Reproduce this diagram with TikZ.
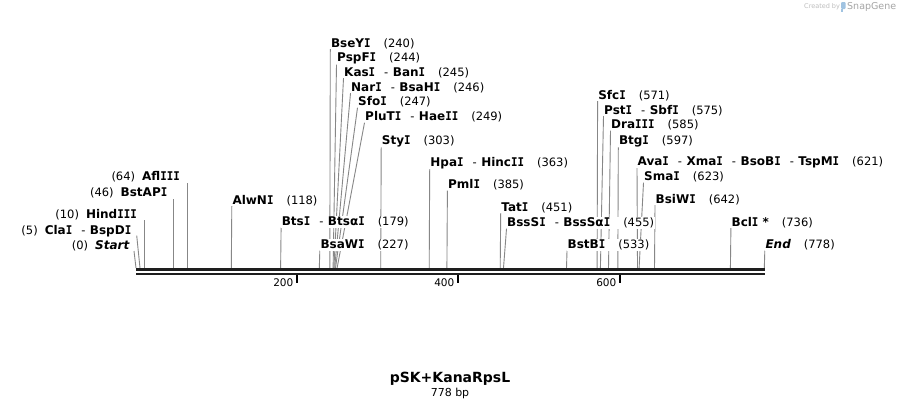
\documentclass[tikz,border=0pt]{standalone}
\usepackage{fontspec}
\setmainfont{DejaVu Sans}
\newfontfamily\monofam{DejaVu Sans Mono}
\usetikzlibrary{backgrounds}
\definecolor{cutc}{RGB}{135,135,135}
\definecolor{bbc}{RGB}{30,30,30}
\definecolor{credc}{RGB}{190,190,190}
\definecolor{snapc}{RGB}{165,165,165}
\definecolor{logoc}{RGB}{160,195,225}
\newcommand\sI{\scalebox{0.9}[1]{\monofam\bfseries I}}
\newcommand\nm[1]{{\fontsize{12}{14}\selectfont\bfseries #1}}
\newcommand\nb[1]{{\fontsize{11.5}{13}\selectfont #1}}
\newcommand\gp{\hspace{13pt}}
\newcommand\lgp{\hspace{7pt}}
\newcommand\sep{\hspace{9pt}-\hspace{4.5pt}}
\tikzset{
  lab/.style={font=\fontsize{11.5}{13}\selectfont, fill=white, inner sep=0.5pt},
  rl/.style={lab, anchor=base west},
  ll/.style={lab, anchor=base east},
  cut/.style={draw=cutc, line width=0.9pt},
  bbline/.style={draw=bbc},
  tickm/.style={draw=black, line width=1.8pt},
  ticklab/.style={font=\fontsize{10.5}{12}\selectfont, anchor=base east, inner sep=0pt},
}
\begin{document}
\begin{tikzpicture}[x=1pt,y=-1pt]
\begin{scope}[on background layer]
\fill[white] (0,0) rectangle (901,408);
\end{scope}
\path[use as bounding box] (0,0) rectangle (901,408);

% backbone
\coordinate (bbL1) at (136,269.8); \coordinate (bbR1) at (765,269.8);
\coordinate (bbL2) at (136,273.9); \coordinate (bbR2) at (765,273.9);
\draw[bbline, line width=3pt] (bbL1) -- (bbR1);
\draw[bbline, line width=2.4pt] (bbL2) -- (bbR2);

% ticks
\coordinate (k200a) at (297,275); \coordinate (k200b) at (297,283);
\coordinate (k400a) at (458,275); \coordinate (k400b) at (458,283);
\coordinate (k600a) at (620,275); \coordinate (k600b) at (620,283);
\draw[tickm] (k200a) -- (k200b);
\draw[tickm] (k400a) -- (k400b);
\draw[tickm] (k600a) -- (k600b);
\node[ticklab] (t200) at (293.5,286.5) {200};
\node[ticklab] (t400) at (454.5,286.5) {400};
\node[ticklab] (t600) at (616.5,286.5) {600};

% site coordinates
\coordinate (s0) at (136,268);
\coordinate (s5) at (140,268);
\coordinate (s10) at (144.1,268);
\coordinate (s46) at (173.2,268);
\coordinate (s64) at (187.2,268);
\coordinate (s118) at (231.3,268);
\coordinate (s179) at (280.6,268);
\coordinate (s227) at (319.3,268);
\coordinate (s240) at (329.8,268);
\coordinate (s244) at (333.1,268);
\coordinate (s245) at (333.9,268);
\coordinate (s246) at (334.7,268);
\coordinate (s247) at (335.5,268);
\coordinate (s249) at (337.1,268);
\coordinate (s303) at (380.7,268);
\coordinate (s363) at (429.2,268);
\coordinate (s385) at (446.9,268);
\coordinate (s451) at (500.2,268);
\coordinate (s455) at (503.5,268);
\coordinate (s533) at (566.5,268);
\coordinate (s571) at (597.1,268);
\coordinate (s575) at (600.4,268);
\coordinate (s585) at (608.5,268);
\coordinate (s597) at (617.8,268);
\coordinate (s621) at (637.5,268);
\coordinate (s623) at (639.1,268);
\coordinate (s642) at (654.5,268);
\coordinate (s736) at (730.4,268);
\coordinate (s778) at (764.3,268);

% right-hand labels
\node[rl] (BseYI) at (330.3,47) {\nm{BseY\sI}\gp\nb{(240)}};
\node[rl] (PspFI) at (336.5,61.5) {\nm{PspF\sI}\gp\nb{(244)}};
\node[rl] (KasI) at (343.5,76) {\nm{Kas\sI}\sep\nm{Ban\sI}\gp\nb{(245)}};
\node[rl] (NarI) at (350.5,91) {\nm{Nar\sI}\sep\nm{BsaH\sI}\gp\nb{(246)}};
\node[rl] (SfoI) at (357.5,105.5) {\nm{Sfo\sI}\gp\nb{(247)}};
\node[rl] (PluTI) at (364.5,120.5) {\nm{PluT\sI}\sep\nm{Hae\sI\sI}\gp\nb{(249)}};
\node[rl] (StyI) at (381.2,144) {\nm{Sty\sI}\gp\nb{(303)}};
\node[rl] (HpaI) at (429.7,166) {\nm{Hpa\sI}\sep\nm{Hinc\sI\sI}\gp\nb{(363)}};
\node[rl] (PmlI) at (447.4,188.5) {\nm{Pml\sI}\gp\nb{(385)}};
\node[rl] (TatI) at (500.7,211) {\nm{Tat\sI}\gp\nb{(451)}};
\node[rl] (BssSI) at (506.5,226.5) {\nm{BssS\sI}\sep\nm{BssSα\sI}\gp\nb{(455)}};
\node[rl] (BstBI) at (567,248.5) {\nm{BstB\sI}\gp\nb{(533)}};
\node[rl] (SfcI) at (597.6,99) {\nm{Sfc\sI}\gp\nb{(571)}};
\node[rl] (PstI) at (603.5,114) {\nm{Pst\sI}\sep\nm{Sbf\sI}\gp\nb{(575)}};
\node[rl] (DraIII) at (610.5,128.5) {\nm{Dra\sI\sI\sI}\gp\nb{(585)}};
\node[rl] (BtgI) at (618.3,144) {\nm{Btg\sI}\gp\nb{(597)}};
\node[rl] (AvaI) at (637,165) {\nm{Ava\sI}\sep\nm{Xma\sI}\sep\nm{BsoB\sI}\sep\nm{TspM\sI}\gp\nb{(621)}};
\node[rl] (SmaI) at (643.5,180.5) {\nm{Sma\sI}\gp\nb{(623)}};
\node[rl] (BsiWI) at (655,203) {\nm{BsiW\sI}\gp\nb{(642)}};
\node[rl] (BclI) at (730.9,226) {\nm{Bcl\sI\ *}\gp\nb{(736)}};
\node[rl] (End) at (764.8,248.5) {\nm{\itshape End}\gp\nb{(778)}};
\node[rl] (AlwNI) at (231.8,204) {\nm{AlwN\sI}\gp\nb{(118)}};
\node[rl] (BtsI) at (281.1,225.5) {\nm{Bts\sI}\sep\nm{Btsα\sI}\gp\nb{(179)}};
\node[rl] (BsaWI) at (319.8,248.5) {\nm{BsaW\sI}\gp\nb{(227)}};

% left-hand labels
\node[ll] (Start) at (130,249) {\nb{(0)}\lgp\nm{\itshape Start}};
\node[ll] (ClaI) at (132,234) {\nb{(5)}\lgp\nm{Cla\sI}\sep\nm{BspD\sI}};
\node[ll] (HindIII) at (137.5,218) {\nb{(10)}\lgp\nm{Hind\sI\sI\sI}};
\node[ll] (BstAPI) at (168,196) {\nb{(46)}\lgp\nm{BstAP\sI}};
\node[ll] (AflIII) at (180.5,180.5) {\nb{(64)}\lgp\nm{Afl\sI\sI\sI}};
\coordinate (tStart) at (134,251);
\coordinate (tClaI) at (136.7,235.5);
\coordinate (tHindIII) at (144.1,220);
\coordinate (tBstAPI) at (173.2,198.5);
\coordinate (tAflIII) at (187.2,183);

% connectors
\begin{scope}[on background layer]
\draw[cut] (s240) -- (BseYI.south west);
\draw[cut] (s244) -- (PspFI.south west);
\draw[cut] (s245) -- (KasI.south west);
\draw[cut] (s246) -- (NarI.south west);
\draw[cut] (s247) -- (SfoI.south west);
\draw[cut] (s249) -- (PluTI.south west);
\draw[cut] (s303) -- (StyI.south west);
\draw[cut] (s363) -- (HpaI.south west);
\draw[cut] (s385) -- (PmlI.south west);
\draw[cut] (s451) -- (TatI.south west);
\draw[cut] (s455) -- (BssSI.south west);
\draw[cut] (s533) -- (BstBI.south west);
\draw[cut] (s571) -- (SfcI.south west);
\draw[cut] (s575) -- (PstI.south west);
\draw[cut] (s585) -- (DraIII.south west);
\draw[cut] (s597) -- (BtgI.south west);
\draw[cut] (s621) -- (AvaI.south west);
\draw[cut] (s623) -- (SmaI.south west);
\draw[cut] (s642) -- (BsiWI.south west);
\draw[cut] (s736) -- (BclI.south west);
\draw[cut] (s778) -- (End.south west);
\draw[cut] (s118) -- (AlwNI.south west);
\draw[cut] (s179) -- (BtsI.south west);
\draw[cut] (s227) -- (BsaWI.south west);
\draw[cut] (s0) -- (tStart);
\draw[cut] (s5) -- (tClaI);
\draw[cut] (s10) -- (tHindIII);
\draw[cut] (s46) -- (tBstAPI);
\draw[cut] (s64) -- (tAflIII);
\end{scope}

% title
\node[font=\fontsize{14}{16}\selectfont\bfseries] (title) at (450,379) {pSK+KanaRpsL};
\node[font=\fontsize{11}{12}\selectfont] (len) at (450,393) {778 bp};

% credit
\node[anchor=west, inner sep=0pt, text=credc, font=\fontsize{6.5}{8}\selectfont] (created) at (804,7) {Created by};
\fill[logoc, rounded corners=1pt] (841,2) rectangle (845.5,9);
\fill[logoc] (841,9) rectangle (843,12);
\node[anchor=west, inner sep=0pt, text=snapc, font=\fontsize{9.5}{11}\selectfont] (snap) at (847,7) {SnapGene};
\end{tikzpicture}
\end{document}
